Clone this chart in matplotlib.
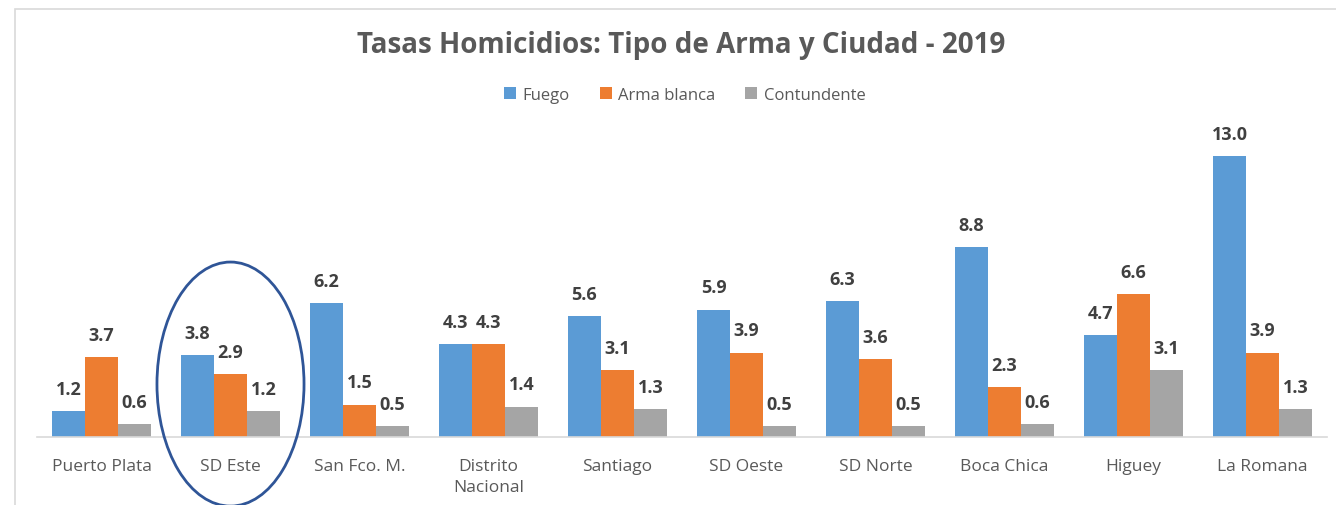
import matplotlib.pyplot as plt
import numpy as np
from matplotlib.patches import Ellipse, Rectangle

plt.rcParams['font.family'] = ['Open Sans', 'DejaVu Sans']

ciudades = ['Puerto Plata', 'SD Este', 'San Fco. M.', 'Distrito\nNacional', 'Santiago',
            'SD Oeste', 'SD Norte', 'Boca Chica', 'Higuey', 'La Romana']
fuego = [1.2, 3.8, 6.2, 4.3, 5.6, 5.9, 6.3, 8.8, 4.7, 13.0]
arma_blanca = [3.7, 2.9, 1.5, 4.3, 3.1, 3.9, 3.6, 2.3, 6.6, 3.9]
contundente = [0.6, 1.2, 0.5, 1.4, 1.3, 0.5, 0.5, 0.6, 3.1, 1.3]

series = [('Fuego', fuego, '#5B9BD5'),
          ('Arma blanca', arma_blanca, '#ED7D31'),
          ('Contundente', contundente, '#A5A5A5')]

W, H = 1336, 506
fig = plt.figure(figsize=(W / 100, H / 100), dpi=100)
ax = fig.add_axes([37 / W, (H - 438) / H, 1290 / W, (438 - 135.6) / H])

x = np.arange(len(ciudades))
bw = 33 / 129
for i, (name, vals, col) in enumerate(series):
    pos = x + (i - 1) * bw
    ax.bar(pos, vals, bw, color=col, label=name, zorder=2)
    for xp, v in zip(pos, vals):
        ax.text(xp, v + 0.62, f'{v:.1f}', ha='center', va='bottom',
                fontsize=13, fontweight='bold', color='#404040')

ax.set_xlim(-0.5, len(ciudades) - 0.5)
ax.set_ylim(0, 14)
for s in ['top', 'right', 'left']:
    ax.spines[s].set_visible(False)
ax.spines['bottom'].set_color('#D9D9D9')
ax.spines['bottom'].set_linewidth(1.2)
ax.set_yticks([])
ax.set_xticks(x)
ax.set_xticklabels(ciudades, fontsize=12.5, color='#595959', linespacing=1.45)
ax.tick_params(axis='x', length=0, pad=15)

fig.text(681 / W, (H - 45) / H, 'Tasas Homicidios: Tipo de Arma y Ciudad - 2019',
         ha='center', va='center', fontsize=20, fontweight='bold', color='#595959')

leg = fig.legend(loc='center', bbox_to_anchor=(685 / W, (H - 96) / H), ncol=3, frameon=False,
                 fontsize=12, handlelength=0.7, handleheight=0.7, handletextpad=0.4,
                 columnspacing=1.8, labelcolor='#595959')

# circle around SD Este
ax.add_patch(Ellipse((1, 2.45), 1.14, 11.3, fill=False, edgecolor='#2F5597',
                     linewidth=2, clip_on=False, zorder=3))

# chart frame
fig.patches.append(Rectangle((15 / W, -0.1), 1.2, (H - 10) / H + 0.1,
                             transform=fig.transFigure, fill=False,
                             edgecolor='#D9D9D9', linewidth=1.2))

fig.savefig('out.png', dpi=100)
